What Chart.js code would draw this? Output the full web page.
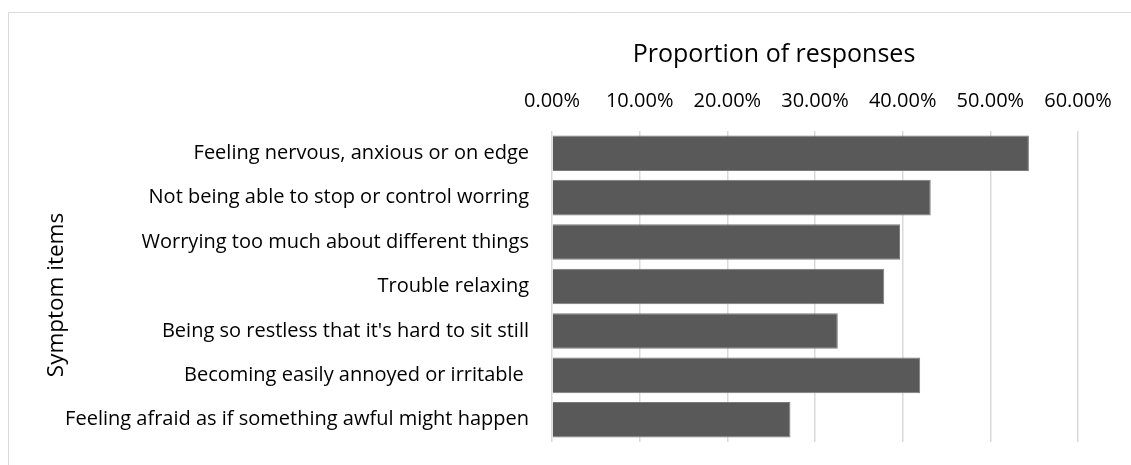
<!DOCTYPE html>
<html>
<head>
<meta charset="utf-8">
<title>Symptom items</title>
<script src="https://cdn.jsdelivr.net/npm/chart.js@4"></script>
<style>
  html, body { margin: 0; padding: 0; background: #fff; overflow: hidden; }
  #chart { display: block; }
</style>
</head>
<body>
<canvas id="chart" width="1131" height="465"></canvas>
<script>
// GAD-7 items, top to bottom
const symptomLabels = [
  'Feeling nervous, anxious or on edge',
  'Not being able to stop or control worring',
  'Worrying too much about different things',
  'Trouble relaxing',
  "Being so restless that it's hard to sit still",
  'Becoming easily annoyed or irritable ',
  'Feeling afraid as if something awful might happen'
];
// share of responses, in percent
const proportions = [54.4, 43.2, 39.7, 37.9, 32.6, 42.0, 27.2];
const tickLabels = ['0.00%', '10.00%', '20.00%', '30.00%', '40.00%', '50.00%', '60.00%'];
const xTitle = 'Proportion of responses';
const yTitle = 'Symptom items';

const FONT = '"Open Sans", "Noto Sans", sans-serif';

// chart frame: only its top and left edges fall inside the canvas
const frame = {
  id: 'frame',
  beforeDraw(chart) {
    const ctx = chart.ctx;
    ctx.save();
    ctx.strokeStyle = '#d9d9d9';
    ctx.lineWidth = 1;
    ctx.beginPath();
    ctx.moveTo(8.5, chart.height);
    ctx.lineTo(8.5, 12.5);
    ctx.lineTo(chart.width, 12.5);
    ctx.stroke();
    ctx.restore();
  }
};

// axis titles drawn by hand so they sit where the layout wants them
const axisTitles = {
  id: 'axisTitles',
  afterDraw(chart) {
    const ctx = chart.ctx, a = chart.chartArea;
    ctx.save();
    ctx.fillStyle = '#000';
    ctx.textAlign = 'center';
    ctx.textBaseline = 'middle';
    ctx.font = '25px ' + FONT;
    ctx.fillText(xTitle, a.left + 222, 55);
    ctx.translate(57, a.top + 164);
    ctx.rotate(-Math.PI / 2);
    ctx.font = '22.5px ' + FONT;
    ctx.fillText(yTitle, 0, 0);
    ctx.restore();
  }
};

new Chart(document.getElementById('chart'), {
  type: 'bar',
  data: {
    labels: symptomLabels,
    datasets: [{
      data: proportions,
      backgroundColor: '#595959',
      borderColor: '#7a7a7a',
      borderWidth: 1,
      barPercentage: 1,
      categoryPercentage: 0.8
    }]
  },
  options: {
    indexAxis: 'y',
    responsive: false,
    devicePixelRatio: 1,
    animation: false,
    layout: { padding: { left: 0, right: 53, top: 0, bottom: 23 } },
    plugins: { legend: { display: false }, tooltip: { enabled: false } },
    scales: {
      x: {
        position: 'top',
        min: 0,
        max: 60,
        grid: { color: '#d9d9d9', lineWidth: 1.5, drawTicks: false },
        border: { display: false },
        ticks: {
          stepSize: 10,
          maxRotation: 0,
          autoSkip: false,
          padding: 18,
          color: '#000',
          font: { family: FONT, size: 20 },
          callback: (v, i) => tickLabels[i]
        },
        afterFit(scale) { scale.height = 131; }
      },
      y: {
        grid: { display: false, drawTicks: false },
        border: { display: false },
        ticks: {
          padding: 23,
          color: '#000',
          font: { family: FONT, size: 20 }
        },
        afterFit(scale) {
          scale.width = 552;
          // labels may hang past the plot edges; keep the plot height fixed
          scale.paddingTop = 0;
          scale.paddingBottom = 0;
        }
      }
    }
  },
  plugins: [frame, axisTitles]
});
</script>
</body>
</html>
